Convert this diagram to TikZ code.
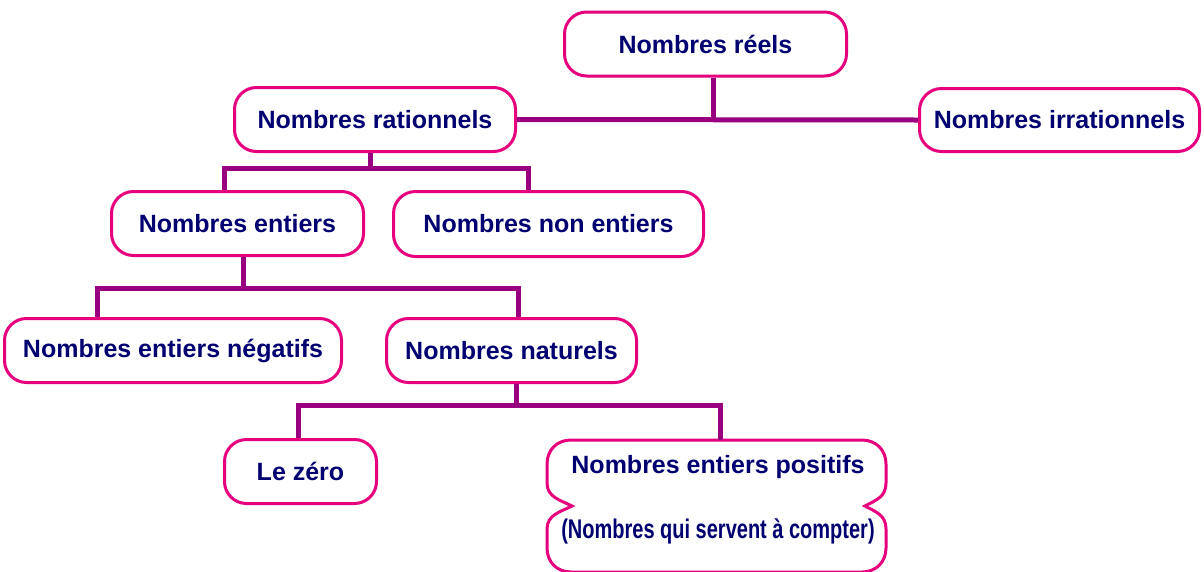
\documentclass[tikz,border=0pt]{standalone}
\usepackage{fontspec}
\setmainfont{Liberation Sans}
\usepackage{tikz}
\usetikzlibrary{positioning, calc}
\definecolor{mypink}{RGB}{230,0,126}
\definecolor{mypurple}{RGB}{153,0,128}
\definecolor{mynavy}{RGB}{0,0,112}
\tikzset{
  numbox/.style={rectangle, draw=mypink, fill=white, line width=3pt,
    rounded corners=22pt, minimum height=64pt, inner sep=0pt,
    text=mynavy, font=\fontsize{25}{30}\selectfont\bfseries},
  txt/.style={inner sep=0pt, text=mynavy,
    font=\fontsize{25}{30}\selectfont\bfseries},
  outline/.style={draw=mypink, fill=white, line width=3pt},
  conn/.style={draw=mypurple, line width=5pt}
}

\begin{document}
\begin{tikzpicture}[x=1pt, y=-1pt]
  \useasboundingbox (0,0) rectangle (1204,571);
  \clip (0,0) rectangle (1204,571);

  % Top level
  \node[numbox, minimum width=282pt] (reels) at (705.5,44) {Nombres réels};
  \node[numbox, minimum width=280pt, minimum height=63pt] (irr) at (1059.5,120) {Nombres irrationnels};
  \node[numbox, minimum width=281pt] (rat) at (375,119.5) {Nombres rationnels};

  % Rationnels
  \node[numbox, minimum width=252pt] (ent) at (237.5,223.5) {Nombres entiers};
  \node[numbox, minimum width=310pt, minimum height=65pt] (nent) at (548.5,224) {Nombres non entiers};

  % Entiers
  \node[numbox, minimum width=337pt] (neg) at (173,350.5) {Nombres entiers négatifs};
  \node[numbox, minimum width=250pt] (nat) at (511.5,350.5) {Nombres naturels};

  % Naturels
  \node[numbox, minimum width=152pt] (zero) at (300.5,471.5) {Le zéro};

  % Double box (positifs)
  \draw[outline] (572,506) .. controls (560,500) and (547,497) .. (547,483)
    -- (547,464) .. controls (547,450) and (557,440) .. (571,440)
    -- (862,440) .. controls (876,440) and (886,450) .. (886,464)
    -- (886,483) .. controls (886,497) and (876,500) .. (865,506)
    .. controls (876,512) and (886,515) .. (886,529)
    -- (886,548) .. controls (886,562) and (876,572) .. (862,572)
    -- (571,572) .. controls (557,572) and (547,562) .. (547,548)
    -- (547,529) .. controls (547,515) and (560,512) .. (572,506) -- cycle;
  \node[txt] (pos) at (718,467) {Nombres entiers positifs};
  \node[txt] (posnote) at (718,531) {\scalebox{0.8}[1.08]{(Nombres qui servent à compter)}};
  \coordinate (posTop) at (720,440);

  % Connectors
  \coordinate (j0) at (713,119.5);
  \draw[conn] (reels.south -| j0) -- (j0);
  \draw[conn] (rat.east) -- (irr.west);

  \coordinate (j1) at (370,168);
  \coordinate (l1) at (224,168);
  \coordinate (r1) at (528,168);
  \draw[conn] (rat.south -| j1) -- (j1);
  \draw[conn] (ent.north -| l1) -- (l1) -- (r1) -- (nent.north -| r1);

  \coordinate (j2) at (243,288);
  \coordinate (l2) at (97.5,288);
  \coordinate (r2) at (518,288);
  \draw[conn] (ent.south -| j2) -- (j2);
  \draw[conn] (neg.north -| l2) -- (l2) -- (r2) -- (nat.north -| r2);

  \coordinate (j3) at (516,405.5);
  \coordinate (l3) at (298,405.5);
  \draw[conn] (nat.south -| j3) -- (j3);
  \draw[conn] (zero.north -| l3) -- (l3) -- (l3 -| posTop) -- (posTop);
\end{tikzpicture}
\end{document}
